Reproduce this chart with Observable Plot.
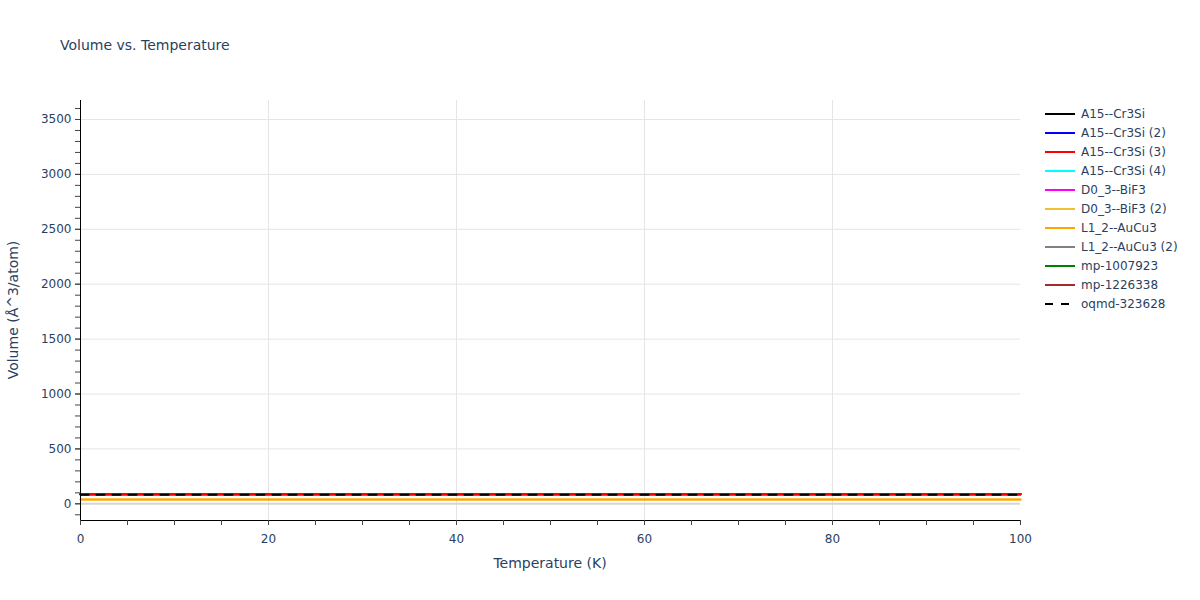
<!DOCTYPE html>
<html>
<head>
<meta charset="utf-8">
<script src="https://cdn.jsdelivr.net/npm/d3@7"></script>
<script src="https://cdn.jsdelivr.net/npm/@observablehq/plot@0.6"></script>
<style>
  body { margin: 0; background: #fff; font-family: "DejaVu Sans", sans-serif; }
  #wrap { position: relative; width: 1200px; height: 600px; overflow: hidden; }
  #wrap svg.plot { position: absolute; left: 0; top: 0; }
  .title { position: absolute; left: 60px; top: 36px; font-size: 14px; line-height: 18px; color: #2a3f5f; white-space: nowrap; }
  .xlabel { position: absolute; left: 550px; top: 554px; transform: translateX(-50%); font-size: 14px; line-height: 18px; color: #2a3f5f; white-space: nowrap; }
  .ylabel { position: absolute; left: 13px; top: 310px; transform: translate(-50%, -50%) rotate(-90deg); font-size: 14px; line-height: 18px; color: #2a3f5f; white-space: nowrap; }
  .legend { position: absolute; left: 1044px; top: 104px; font-size: 12px; color: #2a3f5f; }
  .legend .row { height: 19px; display: flex; align-items: center; white-space: nowrap; }
  .legend svg { margin-right: 5px; }
</style>
</head>
<body>
<div id="wrap"></div>
<script>
// ---- data ----
const temperatures = [0, 20, 40, 60, 80, 100];
const seriesNames = [
  "A15--Cr3Si", "A15--Cr3Si (2)", "A15--Cr3Si (3)", "A15--Cr3Si (4)",
  "D0_3--BiF3", "D0_3--BiF3 (2)", "L1_2--AuCu3", "L1_2--AuCu3 (2)",
  "mp-1007923", "mp-1226338", "oqmd-323628"
];
const seriesColors = [
  "#000000", "#0000ff", "#ff0000", "#00ffff",
  "#ff00ff", "#f0c030", "#ffa500", "#808080",
  "#008000", "#a52a2a", "#000000"
];
const seriesDashed = [false, false, false, false, false, false, false, false, false, false, true];
const volA15 = [88, 88, 88, 88, 88, 88];
const volA15_2 = [88, 88, 88, 88, 88, 88];
const volA15_3 = [89, 89, 89, 89, 89, 89];
const volA15_4 = [88, 88, 88, 88, 88, 88];
const volD03 = [88, 88, 88, 88, 88, 88];
const volD03_2 = [39, 39, 39, 39, 39, 39];
const volL12 = [39, 39, 39, 39, 39, 39];
const volL12_2 = [88, 88, 88, 88, 88, 88];
const volMp1007923 = [88, 88, 88, 88, 88, 88];
const volMp1226338 = [88, 88, 88, 88, 88, 88];
const volOqmd = [83, 83, 83, 83, 83, 83];
const seriesValues = [volA15, volA15_2, volA15_3, volA15_4, volD03, volD03_2, volL12, volL12_2, volMp1007923, volMp1226338, volOqmd];
// draw order (hidden series first so the visible ones sit on top as in the reference)
const drawOrder = [0, 1, 3, 4, 7, 8, 9, 5, 2, 6, 10];

const xDomain = [0, 100];
const yDomain = [-152, 3673];
const xMajorTicks = [0, 20, 40, 60, 80, 100];
const xGrid = [20, 40, 60, 80];
const yMajorTicks = [0, 500, 1000, 1500, 2000, 2500, 3000, 3500];
const yGrid = [500, 1000, 1500, 2000, 2500, 3000, 3500];

// ---- table ----
const rows = [];
drawOrder.forEach(si => {
  temperatures.forEach((t, i) => rows.push({ series: seriesNames[si], idx: si, t, v: seriesValues[si][i] }));
});

const xMinorTicks = d3.range(0, 100.001, 5);
const yMinorTicks = d3.range(-100, 3600.001, 100);

const textColor = "#2a3f5f";
const lineMarks = drawOrder.map(si => Plot.line(rows.filter(r => r.idx === si), {
  x: "t", y: "v", stroke: seriesColors[si], strokeWidth: 2,
  strokeDasharray: seriesDashed[si] ? "8,8" : null
}));

const chart = Plot.plot({
  width: 1200, height: 600,
  marginLeft: 80, marginRight: 180, marginTop: 100, marginBottom: 80,
  x: { domain: xDomain, axis: null },
  y: { domain: yDomain, axis: null },
  style: { fontFamily: '"DejaVu Sans", sans-serif', fontSize: "12px", background: "transparent" },
  marks: [
    Plot.ruleX(xGrid, { stroke: "#e5e5e5", strokeWidth: 1 }),
    Plot.ruleY(yGrid, { stroke: "#e5e5e5", strokeWidth: 1 }),
    Plot.ruleY([0], { stroke: "#d4d4d4", strokeWidth: 2 }),
    ...lineMarks,
    Plot.ruleX([xDomain[0]], { stroke: "#000", strokeWidth: 1 }),
    Plot.ruleY([yDomain[0]], { stroke: "#000", strokeWidth: 1 }),
    Plot.axisX(xMinorTicks, { tickSize: 5, tickFormat: () => "", stroke: "#444", label: null }),
    Plot.axisX(xMajorTicks, { tickSize: 5, tickPadding: 9, stroke: "#444", fill: textColor, fontSize: 12, label: null }),
    Plot.axisY(yMinorTicks, { tickSize: 5, tickFormat: () => "", stroke: "#444", label: null }),
    Plot.axisY(yMajorTicks, { tickSize: 5, tickPadding: 4, stroke: "#444", fill: textColor, fontSize: 12, label: null, tickFormat: d => String(d) })
  ]
});
chart.classList.add("plot");

const wrap = document.getElementById("wrap");
wrap.appendChild(chart);

const title = document.createElement("div");
title.className = "title"; title.textContent = "Volume vs. Temperature";
wrap.appendChild(title);
const xl = document.createElement("div");
xl.className = "xlabel"; xl.textContent = "Temperature (K)";
wrap.appendChild(xl);
const yl = document.createElement("div");
yl.className = "ylabel"; yl.textContent = "Volume (Å^3/atom)";
wrap.appendChild(yl);

const legend = document.createElement("div");
legend.className = "legend";
seriesNames.forEach((name, i) => {
  const row = document.createElement("div");
  row.className = "row";
  const s = d3.create("svg").attr("width", 32).attr("height", 10);
  s.append("line").attr("x1", 1).attr("x2", 31).attr("y1", 5).attr("y2", 5)
    .attr("stroke", seriesColors[i]).attr("stroke-width", 2)
    .attr("stroke-dasharray", seriesDashed[i] ? "8,8" : null);
  row.appendChild(s.node());
  const span = document.createElement("span");
  span.textContent = name;
  row.appendChild(span);
  legend.appendChild(row);
});
wrap.appendChild(legend);
</script>
</body>
</html>
